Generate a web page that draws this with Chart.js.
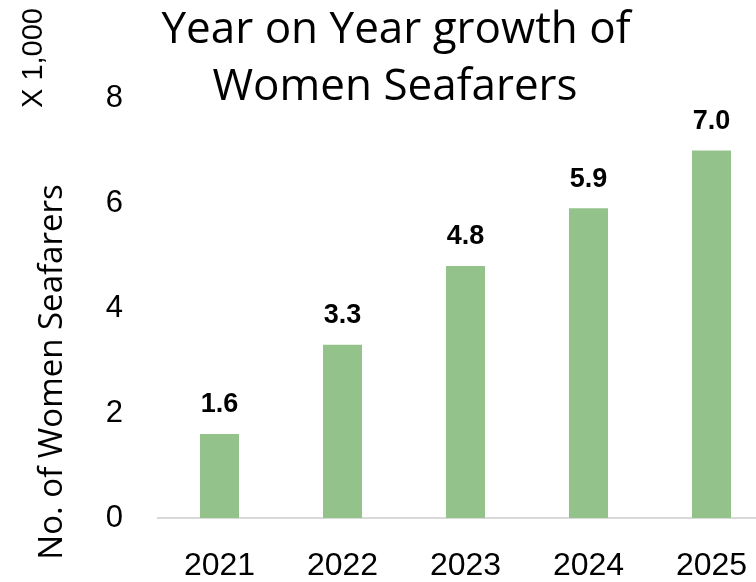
<!DOCTYPE html>
<html>
<head>
<meta charset="utf-8">
<script src="https://cdn.jsdelivr.net/npm/chart.js@4/dist/chart.umd.min.js"></script>
<style>
  html, body { margin: 0; padding: 0; background: #fff; overflow: hidden; }
  #wrap { width: 790px; height: 582px; position: relative; }
</style>
</head>
<body>
<div id="wrap"><canvas id="myChart" width="790" height="582"></canvas></div>
<script>
var anios = ['2021', '2022', '2023', '2024', '2025'];
var mujeres = [1.6, 3.3, 4.8, 5.9, 7.0];
var ticksY = [0, 2, 4, 6, 8];
var tituloLineas = ['Year on Year growth of', 'Women Seafarers'];
var tituloEje = 'No. of Women Seafarers';
var unidad = 'X 1,000';

var fuente = "'Liberation Sans', Arial, sans-serif";
var fuenteTexto = "'Open Sans', 'Liberation Sans', sans-serif";

// textos extra: titulo, eje y, etiquetas de valor
var textosPlugin = {
  id: 'textos',
  afterDatasetsDraw: function (chart) {
    var ctx = chart.ctx;
    ctx.save();
    ctx.fillStyle = '#000';
    ctx.textAlign = 'center';
    ctx.textBaseline = 'alphabetic';

    // titulo
    ctx.font = '44px ' + fuenteTexto;
    ctx.fillText(tituloLineas[0], 396, 43);
    ctx.fillText(tituloLineas[1], 395, 100);

    // valores arriba de cada barra
    ctx.textBaseline = 'middle';
    ctx.font = 'bold 27px ' + fuente;
    var meta = chart.getDatasetMeta(0);
    meta.data.forEach(function (bar, i) {
      ctx.fillText(mujeres[i].toFixed(1), bar.x, bar.y - 29);
    });

    // titulo del eje y
    ctx.textBaseline = 'alphabetic';
    ctx.save();
    ctx.translate(62, 372);
    ctx.rotate(-Math.PI / 2);
    ctx.font = '33px ' + fuenteTexto;
    ctx.fillText(tituloEje, 0, 0);
    ctx.restore();

    // unidad
    ctx.save();
    ctx.translate(42, 58);
    ctx.rotate(-Math.PI / 2);
    ctx.font = '29px ' + fuente;
    ctx.fillText(unidad, 0, 0);
    ctx.restore();

    ctx.restore();
  }
};

var ctxbar = document.getElementById('myChart').getContext('2d');
var myChart = new Chart(ctxbar, {
  type: 'bar',
  data: {
    labels: anios,
    datasets: [{
      label: 'Women Seafarers',
      data: mujeres,
      backgroundColor: '#93c28a',
      barPercentage: 1,
      categoryPercentage: 0.317
    }]
  },
  options: {
    responsive: false,
    animation: false,
    devicePixelRatio: 1,
    layout: { padding: { top: 98, right: 17, bottom: 0, left: 0 } },
    plugins: {
      legend: { display: false },
      title: { display: false },
      tooltip: { enabled: false }
    },
    scales: {
      x: {
        grid: { display: false, drawTicks: false },
        border: { display: true, color: '#d9d9d9', width: 2 },
        ticks: {
          color: '#000',
          font: { family: fuente, size: 32 },
          padding: 29,
          maxRotation: 0
        },
        afterFit: function (s) { s.height = 64; }
      },
      y: {
        min: 0,
        max: 8,
        afterBuildTicks: function (s) {
          s.ticks = ticksY.map(function (v) { return { value: v }; });
        },
        grid: { display: false, drawTicks: false },
        border: { display: false },
        ticks: {
          color: '#000',
          font: { family: fuente, size: 31 },
          padding: 35
        },
        afterFit: function (s) { s.width = 158; }
      }
    }
  },
  plugins: [textosPlugin]
});
</script>
</body>
</html>
